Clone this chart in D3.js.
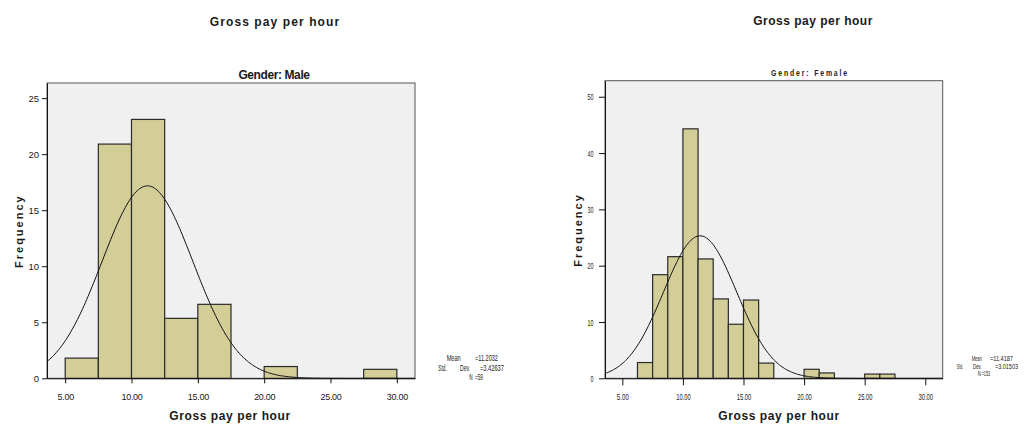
<!DOCTYPE html>
<html>
<head>
<meta charset="utf-8">
<style>
    body { margin: 0; background: #fff; }
    svg text { font-family: "Liberation Sans", Arial, sans-serif; fill: #1a1a1a; }
    .frame { fill: #f0f0f0; stroke: #555; stroke-width: 1; }
    .bar { fill: #d3cd98; stroke: #2a2a2a; stroke-width: 1.2; }
    .curve { fill: none; stroke: #111; stroke-width: 1; }
    .axis path, .axis line { stroke: #111; stroke-width: 1; }
    .title { font-size: 12px; font-weight: bold; }
</style>
</head>
<body>
<div id="chart"></div>
<script src="https://cdn.jsdelivr.net/npm/d3@7/dist/d3.min.js"></script>
<script>
//////////////////// data ////////////////////
const xTicks = [5, 10, 15, 20, 25, 30];

// male : bins of 2.5
const maleBinStart = [5, 7.5, 10, 12.5, 15, 17.5, 20, 22.5, 25, 27.5];
const maleFreq     = [1.8, 20.9, 23.1, 5.35, 6.6, 0, 1.05, 0, 0, 0.8];
const maleBinWidth = 2.5;
const maleYTicks   = [0, 5, 10, 15, 20, 25];
const maleStats    = { mean: 11.2032, sd: 3.42637, n: 59 };

// female : bins of 1.25
const femaleBinStart = [6.25, 7.5, 8.75, 10, 11.25, 12.5, 13.75, 15, 16.25, 20, 21.25, 25, 26.25];
const femaleFreq     = [2.8, 18.4, 21.6, 44.3, 21.2, 14.1, 9.6, 13.9, 2.7, 1.6, 0.95, 0.75, 0.75];
const femaleBinWidth = 1.25;
const femaleYTicks   = [0, 10, 20, 30, 40, 50];
const femaleStats    = { mean: 11.4187, sd: 3.01503, n: 153 };

const svg = d3.select('#chart').append('svg')
    .attr('width', 1029)
    .attr('height', 425);

//////////////////// panels ////////////////////
drawPanel({
    left: 47, right: 415, top: 83, bottom: 378.3,
    xDomain: [3.63, 31.37], yMax: 26.35,
    bins: maleBinStart, freq: maleFreq, bw: maleBinWidth,
    yTicks: maleYTicks, stats: maleStats,
    xTickSize: 5, yTickSize: 5, yPad: 3, condensed: false,
    freqX: 23, xLabelX: 230
});
drawPanel({
    left: 605, right: 942.7, top: 80.7, bottom: 378.3,
    xDomain: [3.57, 31.44], yMax: 52.85,
    bins: femaleBinStart, freq: femaleFreq, bw: femaleBinWidth,
    yTicks: femaleYTicks, stats: femaleStats,
    xTickSize: 7, yTickSize: 6, yPad: 5.5, condensed: true,
    freqX: 582, xLabelX: 779
});

// titres
svg.append('text').attr('class', 'title')
    .attr('x', 275).attr('y', 26).attr('text-anchor', 'middle')
    .style('letter-spacing', '1.1px')
    .text('Gross pay per hour');
svg.append('text').attr('class', 'title')
    .attr('x', 813).attr('y', 25).attr('text-anchor', 'middle')
    .style('letter-spacing', '0.5px')
    .text('Gross pay per hour');
svg.append('text')
    .attr('x', 274).attr('y', 79).attr('text-anchor', 'middle')
    .style('font-size', '12px').style('font-weight', 'bold').style('letter-spacing', '-0.4px')
    .text('Gender: Male');
squeezed('Gender: Female', 810, 76, 78, 'middle', 9.5, true, 2.6);

// legendes (stats)
[
    ['Mean', 446.7, 361, 14], ['=11.2032', 475, 361, 23],
    ['Std.', 438.3, 370.5, 8.4], ['Dev.', 460, 370.5, 10], ['=3.42637', 480, 370.5, 24],
    ['N', 469.3, 380, 3.4], ['=59', 475, 380, 8]
].forEach(([t, x, y, w]) => squeezed(t, x, y, w, 'start', 9, false, 0));
[
    ['Mean', 971.7, 361, 10], ['=11.4187', 990, 361, 23],
    ['Std.', 956.7, 368.5, 6.5], ['Dev.', 973, 368.5, 8.7], ['=3.01503', 995, 368.5, 23],
    ['N', 977.7, 376, 3], ['=153', 981.7, 376, 8.3]
].forEach(([t, x, y, w]) => squeezed(t, x, y, w, 'start', 8, false, 0));

//////////////////// functions ////////////////////
// texte compresse horizontalement jusqu'a la largeur w
function squeezed(t, x, y, w, anchor, fs, bold, ls) {
    let txt = svg.append('text')
        .attr('text-anchor', anchor)
        .style('font-size', fs + 'px')
        .style('font-weight', bold ? 'bold' : 'normal')
        .style('letter-spacing', ls + 'px')
        .text(t);
    let natural = txt.node().getComputedTextLength();
    txt.attr('transform', `translate(${x},${y}) scale(${w / natural},1)`);
    return txt;
}

function drawPanel(p) {
    let x = d3.scaleLinear().domain(p.xDomain).range([p.left, p.right]);
    let y = d3.scaleLinear().domain([0, p.yMax]).range([p.bottom, p.top]);
    let g = svg.append('g');

    g.append('rect').classed('frame', true)
        .attr('x', p.left).attr('y', p.top)
        .attr('width', p.right - p.left).attr('height', p.bottom - p.top);

    // barres
    let bars = p.bins.map((b, i) => ({ x0: b, x1: b + p.bw, f: p.freq[i] })).filter(d => d.f > 0);
    g.selectAll('rect.bar').data(bars).join('rect')
        .classed('bar', true)
        .attr('x', d => x(d.x0))
        .attr('y', d => y(d.f))
        .attr('width', d => x(d.x1) - x(d.x0))
        .attr('height', d => y(0) - y(d.f));

    // courbe normale (Mean / Std. Dev. / N)
    let s = p.stats;
    let k = s.n * p.bw / (s.sd * Math.sqrt(2 * Math.PI));
    let pts = d3.range(p.xDomain[0], p.xDomain[1], 0.1).concat([p.xDomain[1]])
        .map(v => [v, k * Math.exp(-0.5 * ((v - s.mean) / s.sd) ** 2)]);
    g.append('path').classed('curve', true)
        .attr('d', d3.line().x(d => x(d[0])).y(d => y(d[1])).curve(d3.curveBasis)(pts));

    // axes
    let xa = g.append('g').attr('class', 'axis')
        .attr('transform', `translate(0,${p.bottom})`)
        .call(d3.axisBottom(x).tickValues(xTicks).tickFormat(d3.format('.2f'))
            .tickSize(p.xTickSize).tickSizeOuter(0).tickPadding(22 - p.xTickSize - 6.4 - 0.3));
    xa.selectAll('text').style('font-size', '9px').style('letter-spacing', '-0.3px');

    let ya = g.append('g').attr('class', 'axis')
        .attr('transform', `translate(${p.left},0)`)
        .call(d3.axisLeft(y).tickValues(p.yTicks)
            .tickSize(p.yTickSize).tickSizeOuter(0).tickPadding(p.yPad));
    ya.selectAll('text').style('font-size', '9.5px');

    if (p.condensed) {
        // graduations etroites du second graphique
        xa.selectAll('text').each(function (d) {
            let t = d3.select(this).style('letter-spacing', null);
            let ty = +t.attr('y');
            let w = d >= 10 ? 14.5 : 12;
            let sx = w / this.getComputedTextLength();
            t.attr('y', null).attr('transform', `translate(0,${ty}) scale(${sx},1)`);
        });
        ya.selectAll('text').each(function (d) {
            let t = d3.select(this);
            let tx = +t.attr('x');
            let w = d >= 10 ? 6 : 3;
            let sx = w / this.getComputedTextLength();
            t.attr('x', null).attr('transform', `translate(${tx},0) scale(${sx},1)`);
        });
    }

    // libelles des axes
    g.append('text')
        .attr('transform', `translate(${p.freqX},${(p.top + p.bottom) / 2 + 0.5}) rotate(-90)`)
        .attr('text-anchor', 'middle')
        .style('font-size', '11px').style('font-weight', 'bold').style('letter-spacing', '2px')
        .text('Frequency');
    g.append('text')
        .attr('x', p.xLabelX).attr('y', 420).attr('text-anchor', 'middle')
        .style('font-size', '12px').style('font-weight', 'bold').style('letter-spacing', '0.6px')
        .text('Gross pay per hour');
}
</script>
</body>
</html>
